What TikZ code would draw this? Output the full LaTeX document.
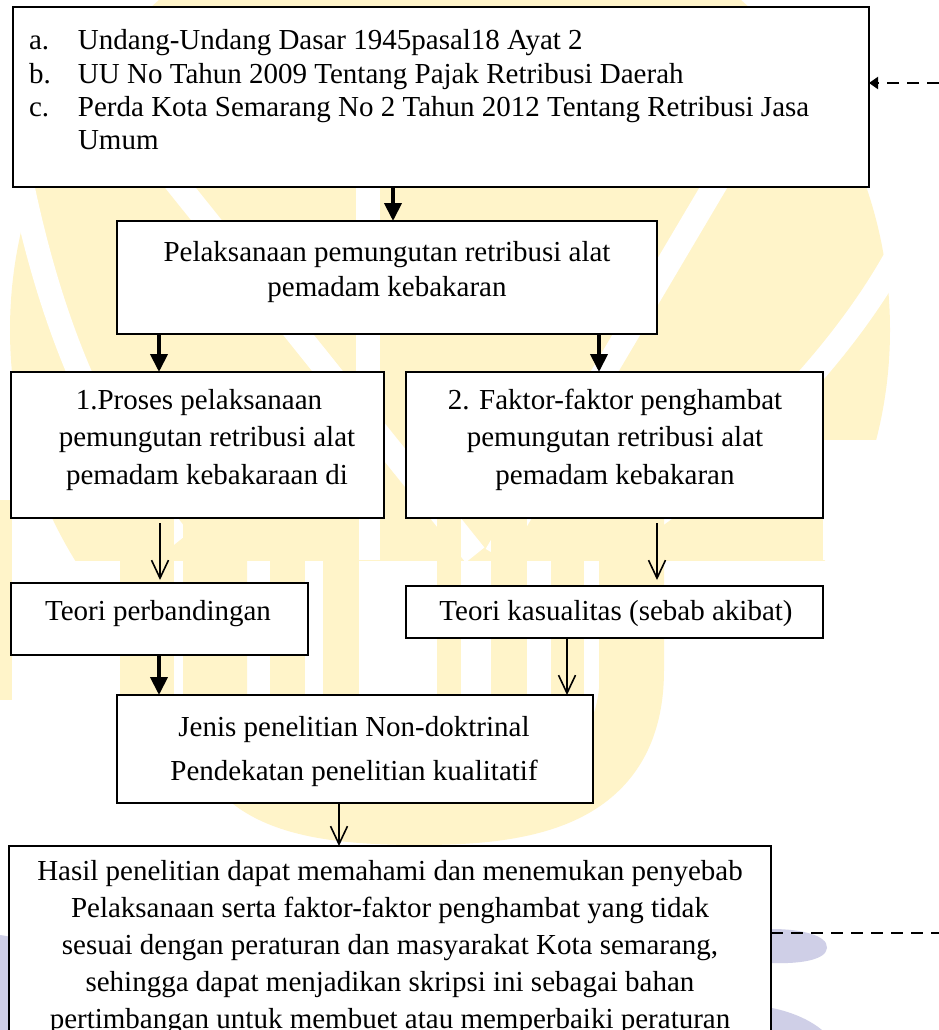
\documentclass[tikz,border=0pt]{standalone}
\usepackage{fontspec}
\setmainfont{Liberation Serif}
\usetikzlibrary{arrows.meta}
\definecolor{wmy}{HTML}{FFF4C9}
\definecolor{wmb}{HTML}{CFCFE7}
\tikzset{
  box/.style={draw=black, line width=2.5pt, fill=white, inner sep=0pt, outer sep=0pt, anchor=north west},
  txt/.style={inner sep=0pt, outer sep=0pt},
  heavyarrow/.style={line width=4pt, -{Triangle[length=18pt,width=17pt]}},
  lightarrow/.style={line width=1.6pt, -{Straight Barb[length=18pt,width=17pt]}},
  dashline/.style={line width=2pt, dash pattern=on 12pt off 8pt},
  wmband/.style={white, line width=24pt},
}
\newcommand{\fsz}[1]{\fontsize{29pt}{#1pt}\selectfont}
\begin{document}
\begin{tikzpicture}[x=1pt,y=-1pt]
\useasboundingbox (0,0) rectangle (939,1030);
\clip (0,0) rectangle (939,1030);
\fill[white] (0,0) rectangle (939,1030);

% ---- watermark (approximate) ----
\begin{scope}
  \clip (0,0) rectangle (939,560);
  \fill[wmy] (450,330) circle [radius=440pt];
\end{scope}
\draw[wmband] (10,120) .. controls (40,300) and (90,430) .. (180,540);
\draw[wmband] (90,75) -- (475,555);
\draw[wmband] (368,60) -- (368,560);
\draw[wmband] (780,75) -- (496,555);
\draw[wmband] (905,240) .. controls (860,330) and (760,450) .. (620,540);
\fill[white] (823,440) rectangle (939,560);
\foreach \a/\b in {0/12,120/174,210/245,270/305,323/359,437/461,491/527,551/584,599/635}
  \fill[wmy] (\a,500) rectangle (\b,700);
\draw[wmy, line width=64pt] (632,480) -- (632,670) .. controls (632,795) and (530,813) .. (420,813) .. controls (300,813) and (215,795) .. (215,690) -- (215,480);
\fill[wmb] (0,935) .. controls (40,940) and (60,970) .. (58,1030) -- (0,1030) -- cycle;
\fill[wmb] (772,929) .. controls (800,929) and (828,935) .. (827,948) .. controls (826,960) and (800,964) .. (772,963) -- cycle;
\fill[wmb] (772,1008) .. controls (792,1012) and (810,1020) .. (822,1030) -- (772,1030) -- cycle;

% ---- boxes ----
\node[box, minimum width=856pt, minimum height=180pt] (b1) at (13,7) {};
\node[box, minimum width=540pt, minimum height=113pt] (b2) at (117,221) {};
\node[box, minimum width=373pt, minimum height=146pt] (b3) at (11,372) {};
\node[box, minimum width=417pt, minimum height=146pt] (b4) at (406,372) {};
\node[box, minimum width=297pt, minimum height=72pt] (b5) at (11,583) {};
\node[box, minimum width=417pt, minimum height=52pt] (b6) at (406,586) {};
\node[box, minimum width=476pt, minimum height=108pt] (b7) at (117,695) {};
\node[box, minimum width=762pt, minimum height=300pt] (b8) at (9,846) {};

% ---- texts ----
\node[txt, anchor=base west] (t1) at (29,50) {\parbox[t]{840pt}{\fsz{33.3}%
  \makebox[49pt][l]{a.}Undang-Undang Dasar 1945pasal18 Ayat 2\\
  \makebox[49pt][l]{b.}UU No Tahun 2009 Tentang Pajak Retribusi Daerah\\
  \makebox[49pt][l]{c.}Perda Kota Semarang No 2 Tahun 2012 Tentang Retribusi Jasa\\
  \hspace*{49pt}Umum}};
\node[txt, anchor=base] (t2) at (387,261) {\parbox[t]{530pt}{\centering\fsz{35}%
  Pelaksanaan pemungutan retribusi alat\\pemadam kebakaran}};
\node[txt, anchor=base] (t3) at (199,409) {\parbox[t]{370pt}{\centering\fsz{37.5}%
  1.Proses pelaksanaan\\\hspace*{16pt}pemungutan retribusi alat\\\hspace*{16pt}pemadam kebakaraan di}};
\node[txt, anchor=base] (t4) at (615,409) {\parbox[t]{410pt}{\centering\fsz{37.5}%
  2. Faktor-faktor penghambat\\pemungutan retribusi alat\\pemadam kebakaran}};
\node[txt, anchor=base] (t5) at (158,620) {\fsz{35}Teori perbandingan};
\node[txt, anchor=base] (t6) at (616,620) {\fsz{35}Teori kasualitas (sebab akibat)};
\node[txt, anchor=base] (t7) at (354,736) {\parbox[t]{470pt}{\centering\fsz{44}%
  Jenis penelitian Non-doktrinal\\Pendekatan penelitian kualitatif}};
\node[txt, anchor=base] (t8) at (390,880) {\parbox[t]{760pt}{\centering\fsz{37.2}%
  Hasil penelitian dapat memahami dan menemukan penyebab\\
  Pelaksanaan serta faktor-faktor penghambat yang tidak\\
  sesuai dengan peraturan dan masyarakat Kota semarang,\\
  sehingga dapat menjadikan skripsi ini sebagai bahan\\
  pertimbangan untuk membuet atau memperbaiki peraturan}};

% ---- connectors ----
\coordinate (xa) at (393,0);
\coordinate (xl) at (159,0);
\coordinate (xr) at (599,0);
\coordinate (xl2) at (160,0);
\coordinate (xr2) at (657,0);
\coordinate (xm) at (567,0);
\coordinate (xb) at (339,0);
\coordinate (d1) at (939,83);
\coordinate (d2) at (939,933);
\draw[heavyarrow] (b1.south -| xa) -- (b2.north -| xa);
\draw[heavyarrow] (b2.south -| xl) -- (b3.north -| xl);
\draw[heavyarrow] (b2.south -| xr) -- (b4.north -| xr);
\draw[lightarrow, shorten <=5pt, shorten >=3pt] (b3.south -| xl2) -- (b5.north -| xl2);
\draw[lightarrow, shorten <=5pt, shorten >=6pt] (b4.south -| xr2) -- (b6.north -| xr2);
\draw[heavyarrow] (b5.south -| xl) -- (b7.north -| xl);
\draw[lightarrow] (b6.south -| xm) -- (b7.north -| xm);
\draw[lightarrow] (b7.south -| xb) -- (b8.north -| xb);
\draw[dashline, -{Triangle[length=9pt,width=12pt]}] (d1) -- (d1 -| b1.east);
\draw[dashline] (b8.east |- d2) -- (d2);
\end{tikzpicture}
\end{document}
